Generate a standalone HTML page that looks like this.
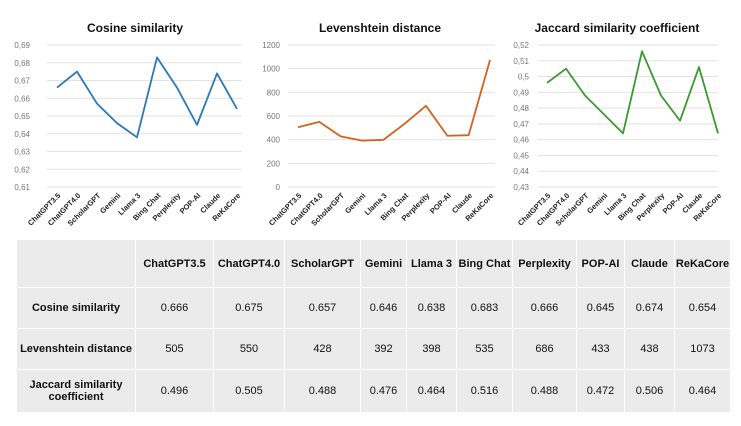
<!DOCTYPE html>
<html><head><meta charset="utf-8"><style>
body{margin:0;width:741px;height:426px;background:#fff;font-family:"Liberation Sans",sans-serif;overflow:hidden;position:relative}
svg{position:absolute;left:0;top:0}
table{position:absolute;left:16px;top:239px;border-collapse:collapse;table-layout:fixed}
td{background:#ebebeb;border:1px solid #fff;text-align:center;font-size:11px;font-weight:bold;color:#111;padding:0;line-height:12px}
</style></head><body>
<svg id="c" width="741" height="235"></svg>
<table>
<colgroup><col style="width:119px"><col style="width:78px"><col style="width:71px"><col style="width:76px"><col style="width:46px"><col style="width:50px"><col style="width:56px"><col style="width:64px"><col style="width:48px"><col style="width:50px"><col style="width:56px"></colgroup>
<tbody id="tb"></tbody></table>
<script>
const categories=["ChatGPT3.5","ChatGPT4.0","ScholarGPT","Gemini","Llama 3","Bing Chat","Perplexity","POP-AI","Claude","ReKaCore"];
const cosine=[0.666,0.675,0.657,0.646,0.638,0.683,0.666,0.645,0.674,0.654];
const levenshtein=[505,550,428,392,398,535,686,433,438,1073];
const jaccard=[0.496,0.505,0.488,0.476,0.464,0.516,0.488,0.472,0.506,0.464];
const cosTicks=["0,61","0,62","0,63","0,64","0,65","0,66","0,67","0,68","0,69"];
const levTicks=["0","200","400","600","800","1000","1200"];
const jacTicks=["0,43","0,44","0,45","0,46","0,47","0,48","0,49","0,5","0,51","0,52"];
const NS="http://www.w3.org/2000/svg",svg=document.getElementById('c');
function mk(t,a,txt){const e=document.createElementNS(NS,t);for(const k in a)e.setAttribute(k,a[k]);if(txt!==undefined)e.textContent=txt;svg.appendChild(e);return e;}
function chart(cfg){
 const {title,tx,vals,ticks,min,max,step,color,lx,gx0,gx1,px0,px1,name}=cfg;
 const top=45,bot=187;
 const y=v=>bot-(v-min)/(max-min)*(bot-top);
 const x=i=>px0+i*(px1-px0)/(vals.length-1);
 const t=mk('text',{x:tx,y:32,'text-anchor':'middle','font-size':12,'font-weight':'bold',fill:'#111'},title);
 
 
 ticks.forEach((lab,i)=>{const v=min+i*step;
  const g=mk('line',{x1:gx0,x2:gx1,y1:y(v),y2:y(v),stroke:'#e2e2e2','stroke-width':1});
  
  
  const l=mk('text',{x:lx,y:y(v)+3,'text-anchor':'end','font-size':8,fill:'#777'},lab);
  
  
 });
 const p=mk('polyline',{points:vals.map((v,i)=>x(i)+','+y(v)).join(' '),fill:'none',stroke:color,'stroke-width':1.8,'stroke-linejoin':'round'});
 
 
 categories.forEach((c,i)=>{const l=mk('text',{x:x(i)+4,y:196,'text-anchor':'end','font-size':7.5,'font-weight':'bold',fill:'#222',transform:`rotate(-45 ${x(i)+4} 196)`},c);
  
  
 });
}
chart({name:'cosine-chart',title:'Cosine similarity',tx:135,vals:cosine,ticks:cosTicks,min:0.61,max:0.69,step:0.01,color:'#2a7ab8',lx:30,gx0:47,gx1:242,px0:57,px1:237});
chart({name:'levenshtein-chart',title:'Levenshtein distance',tx:380,vals:levenshtein,ticks:levTicks,min:0,max:1200,step:200,color:'#d4621c',lx:280,gx0:288,gx1:495,px0:298,px1:490});
chart({name:'jaccard-chart',title:'Jaccard similarity coefficient',tx:617,vals:jaccard,ticks:jacTicks,min:0.43,max:0.52,step:0.01,color:'#3a9a2e',lx:529,gx0:538,gx1:718,px0:547,px1:718});
const tb=document.getElementById('tb');
const rows=[["",...categories],["Cosine similarity",...cosine.map(v=>v.toFixed(3))],["Levenshtein distance",...levenshtein.map(String)],["Jaccard similarity<br>coefficient",...jaccard.map(v=>v.toFixed(3))]];
const hs=[48,41,41,43];
rows.forEach((r,ri)=>{const tr=document.createElement('tr');tr.style.height=hs[ri]+'px';
 
 
 r.forEach((c,ci)=>{const td=document.createElement('td');td.innerHTML=c;
  if(ri>0&&ci>0)td.style.fontWeight='normal';
  
  
  tr.appendChild(td);});
 tb.appendChild(tr);});
</script>
</body></html>
